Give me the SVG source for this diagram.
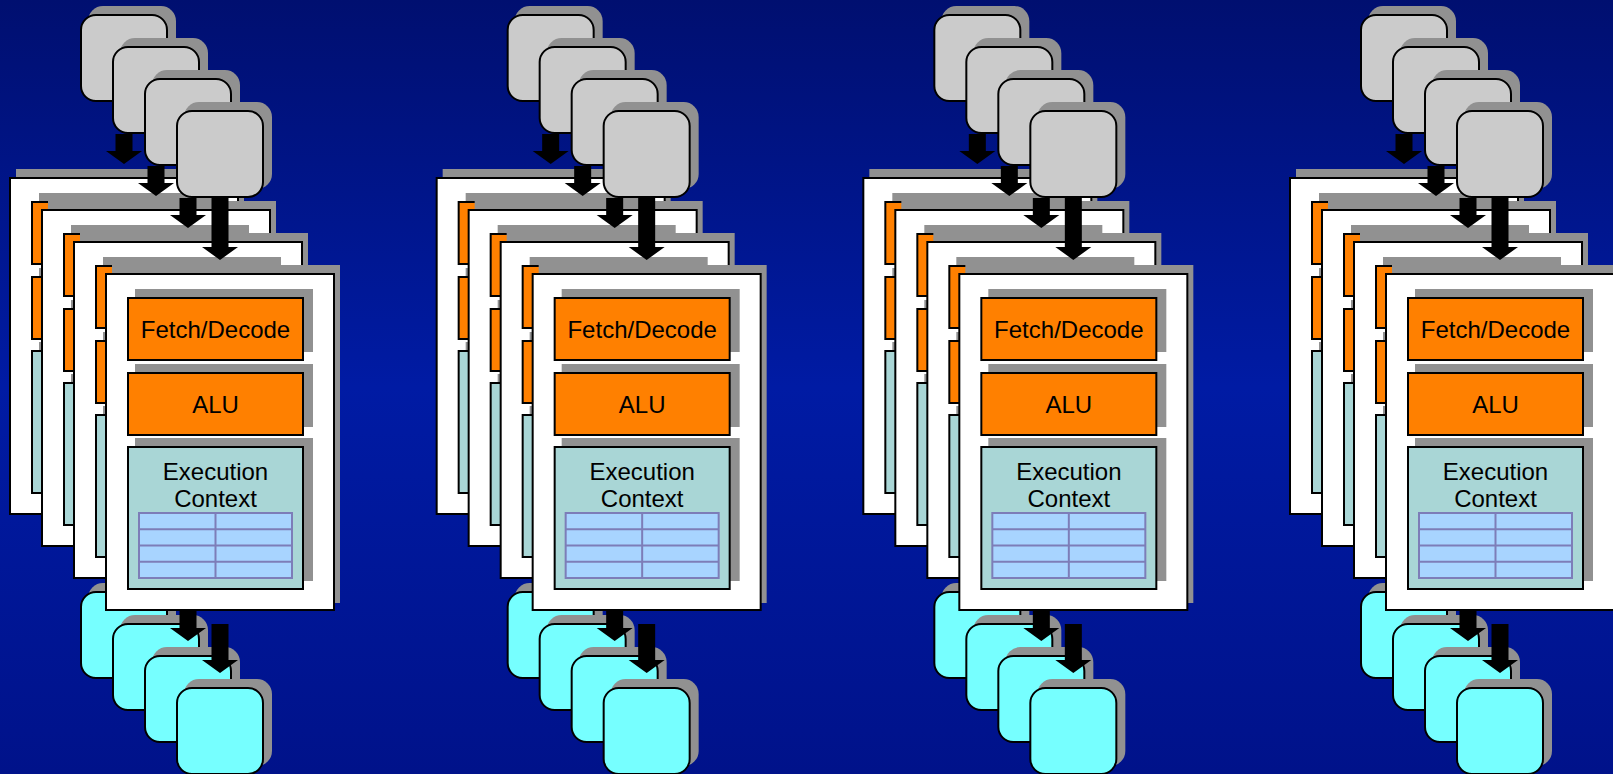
<svg xmlns="http://www.w3.org/2000/svg" width="1613" height="774" viewBox="0 0 1613 774">
  <defs>
    <linearGradient id="bg" x1="0" y1="0" x2="0" y2="1">
      <stop offset="0" stop-color="#000F70"/>
      <stop offset="0.5" stop-color="#001BA4"/>
      <stop offset="1" stop-color="#00128A"/>
    </linearGradient>
    <style>
      .shadow { fill: #919191; }
      .edge { stroke: #000; stroke-width: 2; }
      .inbox { fill: #CBCBCB; }
      .outbox { fill: #76FFFF; }
      .panel { fill: #FFFFFF; }
      .unit { fill: #FF8000; }
      .ctx { fill: #A9D6D6; }
      .grid { fill: #A8D4FF; stroke: #7D7DB8; stroke-width: 2; }
      .gridline { stroke: #7D7DB8; stroke-width: 2; fill: none; }
      .label { font-family: "Liberation Sans", Arial, sans-serif; font-size: 24px; fill: #000; text-anchor: middle; }
      .arrow { fill: #000; }
    </style>
    <!-- instruction stream block -->
    <g id="inBox">
      <rect class="shadow" x="7" y="-9" width="88" height="87" rx="15"/>
      <rect class="inbox edge" x="0" y="0" width="86" height="86" rx="15"/>
    </g>
    <!-- result block -->
    <g id="outBox">
      <rect class="shadow" x="7" y="-9" width="88" height="87" rx="15"/>
      <rect class="outbox edge" x="0" y="0" width="86" height="86" rx="15"/>
    </g>
    <!-- core: fetch/decode, ALU, execution context -->
    <g id="core">
      <rect class="shadow" x="6" y="-9" width="228" height="338"/>
      <rect class="panel edge" x="0" y="0" width="228" height="336"/>
      <rect class="shadow" x="29" y="15" width="178" height="63"/>
      <rect class="unit edge" x="22" y="24" width="175" height="62"/>
      <rect class="shadow" x="29" y="90" width="178" height="63"/>
      <rect class="unit edge" x="22" y="99" width="175" height="62"/>
      <rect class="shadow" x="29" y="164" width="178" height="143"/>
      <rect class="ctx edge" x="22" y="173" width="175" height="142"/>
      <rect class="grid" x="33" y="239" width="153" height="65"/>
      <path class="gridline" d="M33 255.25H186M33 271.5H186M33 287.75H186M109.5 239V304"/>
      <text class="label" x="109.5" y="64">Fetch/Decode</text>
      <text class="label" x="109.5" y="139">ALU</text>
      <text class="label" x="109.5" y="206">Execution</text>
      <text class="label" x="109.5" y="233">Context</text>
    </g>
  </defs>

  <rect x="0" y="0" width="1613" height="774" fill="url(#bg)"/>

  <!-- core group 1 -->
  <g id="unit1">
    <g id="unit1-out1" transform="translate(81,592)"><use href="#outBox"/></g>
    <g id="unit1-out2" transform="translate(113,624)"><use href="#outBox"/></g>
    <g id="unit1-out3" transform="translate(145,656)"><use href="#outBox"/></g>
    <g id="unit1-out4" transform="translate(177,688)"><use href="#outBox"/></g>
    <g id="unit1-core1" transform="translate(10,178)"><use href="#core"/></g>
    <g id="unit1-core2" transform="translate(42,210)"><use href="#core"/></g>
    <g id="unit1-core3" transform="translate(74,242)"><use href="#core"/></g>
    <g id="unit1-core4" transform="translate(106,274)"><use href="#core"/></g>
    <g id="unit1-in1" transform="translate(81,15)"><use href="#inBox"/></g>
    <g id="unit1-in2" transform="translate(113,47)"><use href="#inBox"/></g>
    <g id="unit1-in3" transform="translate(145,79)"><use href="#inBox"/></g>
    <g id="unit1-in4" transform="translate(177,111)"><use href="#inBox"/></g>
  </g>

  <!-- core group 2 -->
  <g id="unit2" transform="translate(426.67,0)">
    <g id="unit2-out1" transform="translate(81,592)"><use href="#outBox"/></g>
    <g id="unit2-out2" transform="translate(113,624)"><use href="#outBox"/></g>
    <g id="unit2-out3" transform="translate(145,656)"><use href="#outBox"/></g>
    <g id="unit2-out4" transform="translate(177,688)"><use href="#outBox"/></g>
    <g id="unit2-core1" transform="translate(10,178)"><use href="#core"/></g>
    <g id="unit2-core2" transform="translate(42,210)"><use href="#core"/></g>
    <g id="unit2-core3" transform="translate(74,242)"><use href="#core"/></g>
    <g id="unit2-core4" transform="translate(106,274)"><use href="#core"/></g>
    <g id="unit2-in1" transform="translate(81,15)"><use href="#inBox"/></g>
    <g id="unit2-in2" transform="translate(113,47)"><use href="#inBox"/></g>
    <g id="unit2-in3" transform="translate(145,79)"><use href="#inBox"/></g>
    <g id="unit2-in4" transform="translate(177,111)"><use href="#inBox"/></g>
  </g>

  <!-- core group 3 -->
  <g id="unit3" transform="translate(853.33,0)">
    <g id="unit3-out1" transform="translate(81,592)"><use href="#outBox"/></g>
    <g id="unit3-out2" transform="translate(113,624)"><use href="#outBox"/></g>
    <g id="unit3-out3" transform="translate(145,656)"><use href="#outBox"/></g>
    <g id="unit3-out4" transform="translate(177,688)"><use href="#outBox"/></g>
    <g id="unit3-core1" transform="translate(10,178)"><use href="#core"/></g>
    <g id="unit3-core2" transform="translate(42,210)"><use href="#core"/></g>
    <g id="unit3-core3" transform="translate(74,242)"><use href="#core"/></g>
    <g id="unit3-core4" transform="translate(106,274)"><use href="#core"/></g>
    <g id="unit3-in1" transform="translate(81,15)"><use href="#inBox"/></g>
    <g id="unit3-in2" transform="translate(113,47)"><use href="#inBox"/></g>
    <g id="unit3-in3" transform="translate(145,79)"><use href="#inBox"/></g>
    <g id="unit3-in4" transform="translate(177,111)"><use href="#inBox"/></g>
  </g>

  <!-- core group 4 -->
  <g id="unit4" transform="translate(1280,0)">
    <g id="unit4-out1" transform="translate(81,592)"><use href="#outBox"/></g>
    <g id="unit4-out2" transform="translate(113,624)"><use href="#outBox"/></g>
    <g id="unit4-out3" transform="translate(145,656)"><use href="#outBox"/></g>
    <g id="unit4-out4" transform="translate(177,688)"><use href="#outBox"/></g>
    <g id="unit4-core1" transform="translate(10,178)"><use href="#core"/></g>
    <g id="unit4-core2" transform="translate(42,210)"><use href="#core"/></g>
    <g id="unit4-core3" transform="translate(74,242)"><use href="#core"/></g>
    <g id="unit4-core4" transform="translate(106,274)"><use href="#core"/></g>
    <g id="unit4-in1" transform="translate(81,15)"><use href="#inBox"/></g>
    <g id="unit4-in2" transform="translate(113,47)"><use href="#inBox"/></g>
    <g id="unit4-in3" transform="translate(145,79)"><use href="#inBox"/></g>
    <g id="unit4-in4" transform="translate(177,111)"><use href="#inBox"/></g>
  </g>

  <!-- arrows: each starts where it leaves the block above it -->
  <g id="connectors">
    <g id="arrows-core">
      <path class="arrow" d="M115.5 134H132.5V151H142L124 164L106 151H115.5Z"/>
      <path class="arrow" d="M147.5 166H164.5V183H174L156 196L138 183H147.5Z"/>
      <path class="arrow" d="M179.5 198H196.5V215H206L188 228L170 215H179.5Z"/>
      <path class="arrow" d="M211.5 198H228.5V247H238L220 260L202 247H211.5Z"/>
      <path class="arrow" d="M179.5 611H196.5V628H206L188 641L170 628H179.5Z"/>
      <path class="arrow" d="M211.5 624H228.5V660H238L220 673L202 660H211.5Z"/>
    </g>
    <use href="#arrows-core" transform="translate(426.67,0)"/>
    <use href="#arrows-core" transform="translate(853.33,0)"/>
    <use href="#arrows-core" transform="translate(1280,0)"/>
  </g>
</svg>
